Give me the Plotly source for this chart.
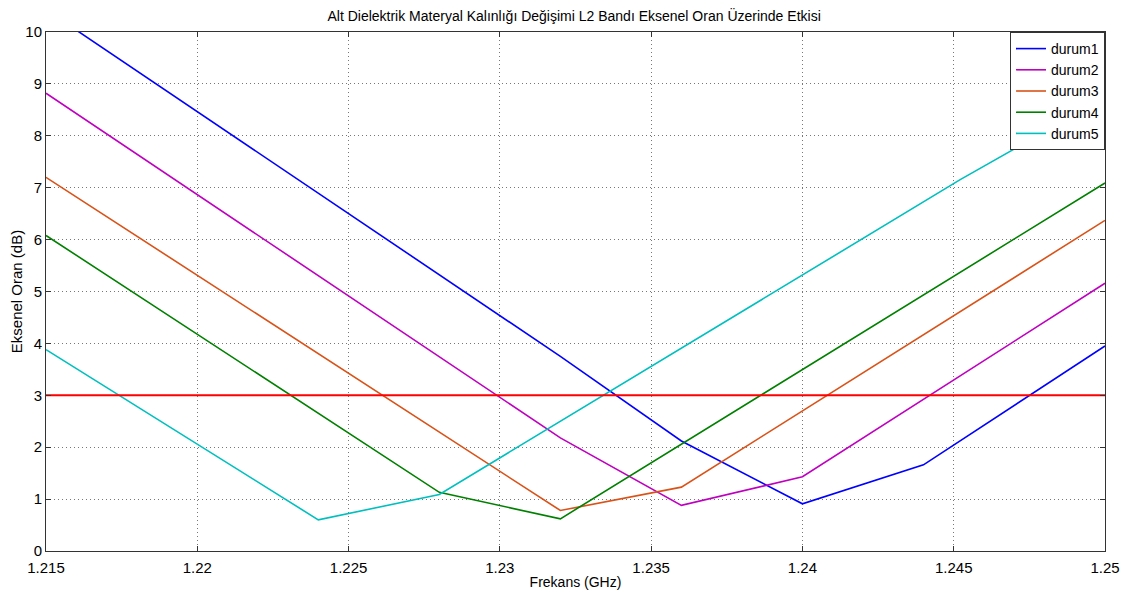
import plotly.graph_objects as go

# values (frequency in GHz, axial ratio in dB)
x1 = [1.215, 1.232, 1.236, 1.240, 1.244, 1.250]
y1 = [10.43, 3.75, 2.12, 0.91, 1.66, 3.95]

x2 = [1.215, 1.232, 1.236, 1.240, 1.250]
y2 = [8.82, 2.18, 0.88, 1.43, 5.16]

x3 = [1.215, 1.232, 1.236, 1.250]
y3 = [7.20, 0.78, 1.23, 6.37]

x4 = [1.215, 1.228, 1.232, 1.250]
y4 = [6.08, 1.13, 0.62, 7.09]

x5 = [1.215, 1.224, 1.228, 1.2452, 1.250]
y5 = [3.88, 0.60, 1.09, 7.15, 8.74]

names = ["durum1", "durum2", "durum3", "durum4", "durum5"]
colors = ["#0000FF", "#BF00BF", "#D95319", "#008000", "#00BFBF"]

ref_x = [1.215, 1.25]
ref_y = [3, 3]

font = "Liberation Sans, Arial, sans-serif"

fig = go.Figure()
for xs, ys, name, color in zip([x1, x2, x3, x4, x5], [y1, y2, y3, y4, y5], names, colors):
    fig.add_trace(go.Scatter(x=xs, y=ys, mode="lines", name=name,
                             line=dict(color=color, width=1.6)))

fig.add_trace(go.Scatter(x=ref_x, y=ref_y, mode="lines", showlegend=False,
                         line=dict(color="#FF0000", width=2)))

axis_common = dict(
    showline=True, linecolor="#333333", linewidth=1, mirror="ticks",
    ticks="inside", ticklen=5, tickcolor="#333333",
    showgrid=True, gridcolor="#777777", griddash="1px,3px", gridwidth=1,
    zeroline=False, automargin=False,
    tickfont=dict(family=font, size=15, color="black"),
)

# the page body adds an 8px offset, so the figure is a bit smaller than the window
fig.update_layout(
    width=1121, height=594,
    margin=dict(l=38, r=24, t=24, b=51),
    paper_bgcolor="white", plot_bgcolor="white",
    title=dict(text="Alt Dielektrik Materyal Kalınlığı Değişimi L2 Bandı Eksenel Oran Üzerinde Etkisi",
               x=0.505, xanchor="center", y=0.995, yanchor="top",
               font=dict(family=font, size=14, color="black")),
    xaxis=dict(range=[1.215, 1.25], tickvals=[1.215, 1.22, 1.225, 1.23, 1.235, 1.24, 1.245, 1.25],
               ticktext=["1.215", "1.22", "1.225", "1.23", "1.235", "1.24", "1.245", "1.25"],
               ticklabelstandoff=3,
               title=dict(text="Frekans (GHz)", font=dict(family=font, size=14, color="black"), standoff=2),
               **axis_common),
    yaxis=dict(range=[0, 10], dtick=1,
               title=dict(text="Eksenel Oran (dB)", font=dict(family=font, size=15, color="black"), standoff=4),
               **axis_common),
    legend=dict(x=1, y=1, xanchor="right", yanchor="top",
                bgcolor="white", bordercolor="#333333", borderwidth=1,
                font=dict(family=font, size=14, color="black"),
                tracegroupgap=0, itemwidth=30),
    showlegend=True,
)

fig.write_html("out.html")
